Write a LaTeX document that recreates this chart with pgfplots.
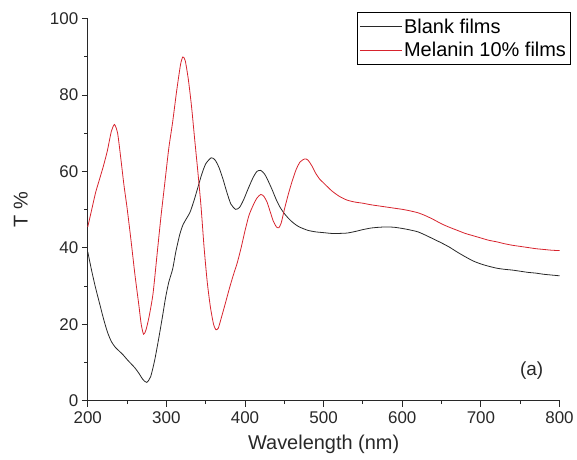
\documentclass[border=0pt]{standalone}
\usepackage{pgfplots}
\pgfplotsset{compat=1.18}
\usepackage{fontspec}
\setmainfont{Liberation Sans}
\definecolor{cblack}{RGB}{40,40,40}
\definecolor{cred}{RGB}{215,35,45}
\definecolor{axc}{RGB}{40,40,40}
\begin{document}
\begin{tikzpicture}
\begin{axis}[
  scale only axis,
  width=473pt, height=383pt,
  xmin=200, xmax=800, ymin=0, ymax=100,
  axis x line=bottom, axis y line=left,
  axis line style={axc, line width=1.1pt, -},
  xtick={200,300,...,800}, ytick={0,20,...,100},
  minor x tick num=1, minor y tick num=1,
  tick align=outside,
  major tick length=6pt, minor tick length=3.5pt,
  tick style={axc, line width=1pt},
  /pgf/number format/assume math mode=true,
  ticklabel style={font=\fontsize{17}{20}\selectfont, text=axc},
  xticklabel style={yshift=-1pt},
  xlabel={Wavelength (nm)},
  ylabel={T \%},
  label style={font=\fontsize{20}{24}\selectfont, text=axc},
  xlabel style={at={(axis description cs:0.5,-0.113)}, anchor=center},
  ylabel style={at={(axis description cs:-0.142,0.5)}, anchor=center, rotate=0},
  clip=false,
  legend style={at={(1.023,1.017)}, anchor=north east, draw=black, line width=0.8pt,
    font=\fontsize{20}{24}\selectfont, inner xsep=2pt, inner ysep=4pt,
    row sep=4pt, fill=white},
  legend cell align=left,
  legend image code/.code={\draw[#1, line width=0.8pt] (0pt,0pt) -- (42pt,0pt);},
]
\addplot[cblack, line width=0.8pt, smooth, tension=0.4] coordinates {
(200,39) (205,34) (210,29.5) (215,25.5) (220,21.5) (225,18) (230,15.5) (235,14)
(240,13) (245,12) (250,10.8) (255,9.7) (260,8.6) (265,7.2) (270,5.6) (275,4.8)
(280,6.3) (285,10.5) (290,16) (295,22) (299,27) (303,31) (308,34.5) (312,39)
(317,43.5) (321,46) (325,47.5) (330,49.3) (335,52.3) (340,55.8) (345,59.3) (350,62)
(357,63.6) (362,63) (367,61) (372,58) (377,54.5) (382,51.5) (388,50.1) (393,50.6)
(398,52.5) (404,55.5) (410,58.3) (415,60) (420,60.3) (425,59.3) (430,57.3) (435,55)
(440,52.5) (445,50.5) (450,49) (455,47.8) (460,46.8) (465,46) (470,45.4) (480,44.6)
(490,44.2) (500,44) (510,43.8) (520,43.8) (530,43.9) (540,44.3) (550,44.8) (560,45.2)
(570,45.4) (580,45.5) (590,45.4) (600,45.1) (610,44.7) (620,44.2) (630,43.3) (640,42.3)
(650,41.3) (660,40.2) (670,38.9) (680,37.7) (690,36.6) (700,35.8) (710,35.2) (720,34.7)
(730,34.4) (740,34.2) (750,33.9) (760,33.6) (770,33.4) (780,33.1) (790,32.9) (800,32.7)
};
\addlegendentry{Blank films}
\addplot[cred, line width=0.8pt, smooth, tension=0.4] coordinates {
(200,45.5) (205,50) (210,54.5) (215,58) (220,61.5) (225,65.5) (230,70.5) (234,72.3)
(238,70) (242,63.5) (246,56.5) (250,50.5) (255,42) (260,33) (265,25) (268,20) (271,17.4)
(274,18.5) (278,22) (283,28) (288,38) (293,48) (298,57) (303,66) (308,73) (313,81)
(318,88) (321,90) (324,89) (328,84) (332,77) (336,68.4) (340,60) (344,51) (348,40)
(352,31) (356,24.5) (360,20) (363,18.6) (366,19) (370,21.8) (375,25.5) (380,29.3)
(385,32.8) (390,36) (395,40) (400,44.5) (405,48.5) (410,51) (415,53) (420,54)
(424,53.5) (428,52) (432,49.5) (436,47) (440,45.5) (443,45.3) (446,46.5) (450,50)
(455,54) (460,57.5) (465,60.5) (470,62.5) (476,63.3) (480,63) (485,61.5) (490,59.5)
(495,58) (500,57) (510,55) (520,53.5) (530,52.5) (540,52) (550,51.7) (560,51.3)
(570,51) (580,50.7) (590,50.4) (600,50.1) (610,49.7) (620,49.2) (630,48.4) (640,47.4)
(650,46.3) (660,45.4) (670,44.6) (680,43.8) (690,43.2) (700,42.6) (710,42) (720,41.6)
(730,41.1) (740,40.7) (750,40.4) (760,40.1) (770,39.8) (780,39.6) (790,39.4) (800,39.3)
};
\addlegendentry{Melanin 10\% films}
\node[font=\fontsize{19}{22}\selectfont, text=axc] at (rel axis cs:0.941,0.078) {(a)};
\path (rel axis cs:-0.186,-0.155) rectangle (rel axis cs:1.034,1.049);
\end{axis}
\end{tikzpicture}
\end{document}
